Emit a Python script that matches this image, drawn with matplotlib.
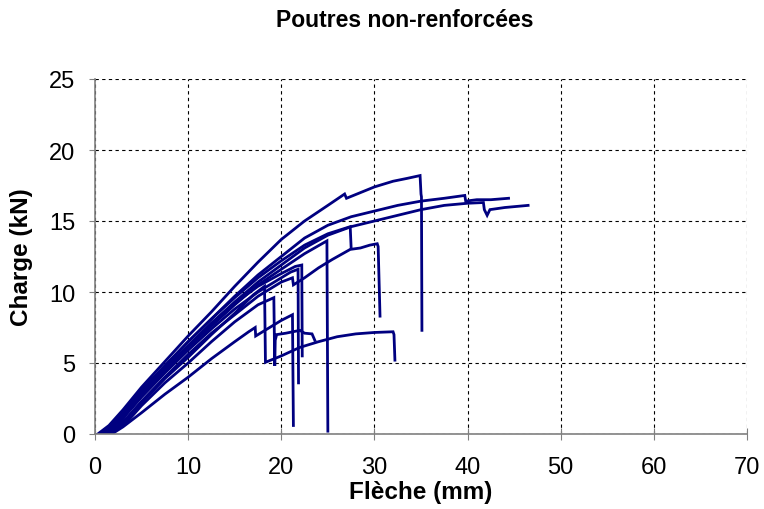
import matplotlib
matplotlib.use('Agg')
import matplotlib.pyplot as plt

# ------------------------------------------------------------
# ------------------  Data (load / deflection)  --------------
# ------------------------------------------------------------
# each beam: deflection (mm) and load (kN)

c1_x = [0.3, 1.5, 3.0, 5.0, 7.5, 10.0, 12.5, 15.0, 17.5, 20.0, 22.5, 25.0, 26.8, 27.0,
        28.5, 30.0, 32.0, 33.5, 34.9, 35.0, 35.05, 35.1]
c1_y = [0.0, 0.6, 1.7, 3.3, 5.1, 6.9, 8.6, 10.4, 12.1, 13.7, 15.0, 16.1, 16.9, 16.6,
        17.0, 17.4, 17.8, 18.0, 18.2, 16.9, 16.7, 7.3]

c2_x = [0.5, 1.5, 2.5, 5.0, 7.5, 10.0, 12.5, 15.0, 17.5, 20.0, 22.5, 25.0, 27.5, 30.0,
        32.5, 35.0, 37.5, 39.7, 39.8, 41.0, 42.5, 44.4]
c2_y = [0.0, 0.5, 1.2, 3.1, 4.8, 6.5, 8.1, 9.7, 11.2, 12.5, 13.8, 14.7, 15.3, 15.7,
        16.1, 16.4, 16.6, 16.8, 16.4, 16.5, 16.5, 16.6]

c3_x = [0.8, 2.0, 3.0, 5.0, 7.5, 10.0, 12.5, 15.0, 17.5, 20.0, 22.5, 25.0, 27.5, 30.0,
        32.5, 35.0, 37.5, 40.0, 41.7, 41.8, 42.1, 42.4, 44.0, 46.5]
c3_y = [0.0, 0.6, 1.3, 2.8, 4.6, 6.2, 7.8, 9.3, 10.7, 11.9, 13.1, 14.0, 14.6, 15.0,
        15.4, 15.8, 16.1, 16.25, 16.3, 15.8, 15.4, 15.8, 15.95, 16.1]

c4_x = [0.6, 2.0, 3.0, 5.0, 7.5, 10.0, 12.5, 15.0, 17.5, 20.0, 22.5, 25.0, 27.4, 27.5]
c4_y = [0.0, 0.7, 1.4, 3.0, 4.8, 6.5, 8.1, 9.6, 11.0, 12.2, 13.3, 14.1, 14.6, 13.1]

c5_x = [0.9, 2.0, 3.0, 5.0, 7.5, 10.0, 12.5, 15.0, 17.5, 20.0, 22.5, 24.9, 25.0]
c5_y = [0.0, 0.6, 1.2, 2.7, 4.5, 6.1, 7.6, 9.1, 10.5, 11.6, 12.7, 13.6, 0.2]

c6_x = [0.7, 2.0, 3.0, 5.0, 7.5, 10.0, 12.5, 15.0, 17.5, 20.0, 21.5, 22.2, 22.25]
c6_y = [0.0, 0.6, 1.3, 2.9, 4.6, 6.2, 7.8, 9.2, 10.4, 11.3, 11.8, 11.9, 5.5]

c7_x = [1.0, 2.0, 3.0, 5.0, 7.5, 10.0, 12.5, 15.0, 17.5, 20.0, 21.0, 21.8, 21.85]
c7_y = [0.0, 0.5, 1.1, 2.6, 4.3, 5.9, 7.4, 8.8, 10.0, 11.0, 11.4, 11.6, 3.6]

c8_x = [1.2, 2.5, 3.5, 5.0, 7.5, 10.0, 12.5, 15.0, 17.5, 20.0, 21.2, 21.3, 22.5, 24.0,
        25.5, 27.4, 28.5, 29.5, 30.3, 30.4, 30.6]
c8_y = [0.0, 0.6, 1.2, 2.3, 4.0, 5.6, 7.1, 8.4, 9.7, 10.7, 11.0, 10.5, 11.0, 11.7,
        12.3, 13.0, 13.1, 13.3, 13.4, 13.2, 8.3]

c9_x = [1.3, 2.5, 3.5, 5.0, 7.5, 10.0, 12.5, 15.0, 17.0, 18.2, 18.3, 20.0, 22.0, 24.0,
        26.0, 28.0, 30.0, 32.0, 32.1, 32.2]
c9_y = [0.0, 0.5, 1.1, 2.2, 3.9, 5.4, 7.0, 8.5, 9.8, 10.4, 5.05, 5.5, 6.1, 6.5,
        6.85, 7.05, 7.15, 7.2, 7.0, 5.2]

c10_x = [1.5, 2.5, 3.5, 5.0, 7.5, 10.0, 12.5, 15.0, 17.5, 19.2, 19.3, 19.35, 19.5, 20.5,
         22.0, 22.5, 23.3, 23.6]
c10_y = [0.0, 0.4, 0.9, 2.0, 3.6, 5.0, 6.5, 7.9, 9.1, 9.6, 4.8, 6.6, 7.0, 7.1,
         7.3, 7.1, 7.05, 6.6]

c11_x = [1.8, 3.0, 4.0, 5.0, 7.5, 10.0, 12.5, 15.0, 16.5, 17.2, 17.25, 18.0, 19.0, 20.0,
         21.2, 21.3]
c11_y = [0.0, 0.5, 1.0, 1.5, 2.8, 4.0, 5.3, 6.5, 7.2, 7.5, 6.9, 7.2, 7.6, 8.0,
         8.4, 0.6]

series = [(c1_x, c1_y), (c2_x, c2_y), (c3_x, c3_y), (c4_x, c4_y), (c5_x, c5_y),
          (c6_x, c6_y), (c7_x, c7_y), (c8_x, c8_y), (c9_x, c9_y), (c10_x, c10_y),
          (c11_x, c11_y)]

# ------------------------------------------------------------
# ------------------  Plot  ----------------------------------
# ------------------------------------------------------------
plt.rcParams['font.family'] = ['Liberation Sans', 'DejaVu Sans']

fig = plt.figure(figsize=(7.64, 5.10), dpi=100)
ax = fig.add_axes([95/764, 75/510, 652/764, 355/510])

for x, y in series:
    ax.plot(x, y, color='#000080', lw=2.0, solid_joinstyle='miter')

ax.set_xlim(0, 70)
ax.set_ylim(0, 25)
ax.set_xticks(range(0, 71, 10))
ax.set_yticks(range(0, 26, 5))
ax.grid(True, color='black', linestyle=(0, (3, 3)), linewidth=0.8)
ax.set_axisbelow(True)

for s in ['top', 'right']:
    ax.spines[s].set_visible(False)
for s in ['left', 'bottom']:
    ax.spines[s].set_color('#808080')
    ax.spines[s].set_linewidth(1.2)

ax.tick_params(axis='x', direction='inout', length=8, color='#808080', labelsize=17, pad=12)
ax.tick_params(axis='y', direction='out', length=4, color='#808080', labelsize=17, pad=10)

ax.set_xlabel('Flèche (mm)', fontsize=17.5, fontweight='bold', labelpad=1)
ax.set_ylabel('Charge (kN)', fontsize=17.5, fontweight='bold', labelpad=12)
fig.text(405/764, 0.96, 'Poutres non-renforcées', fontsize=16.5, fontweight='bold',
         ha='center', va='center')

fig.savefig('out.png', dpi=100)
